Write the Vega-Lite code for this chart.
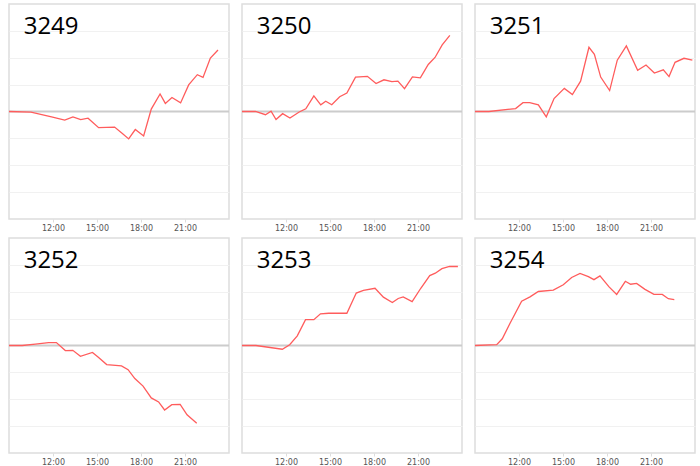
{
  "$schema": "https://vega.github.io/schema/vega-lite/v6.json",
  "padding": {"left": 5, "top": 3, "right": 0, "bottom": 0},
  "background": "white",
  "data": {
    "values": [
      {"id": "3249", "h": 9.0, "v": 0},
      {"id": "3249", "h": 10.5, "v": -0.02},
      {"id": "3249", "h": 11.9, "v": -0.2},
      {"id": "3249", "h": 12.8, "v": -0.32},
      {"id": "3249", "h": 13.36, "v": -0.2},
      {"id": "3249", "h": 13.89, "v": -0.3},
      {"id": "3249", "h": 14.39, "v": -0.25},
      {"id": "3249", "h": 15.11, "v": -0.6},
      {"id": "3249", "h": 16.2, "v": -0.58},
      {"id": "3249", "h": 16.77, "v": -0.84},
      {"id": "3249", "h": 17.16, "v": -1.02},
      {"id": "3249", "h": 17.61, "v": -0.67},
      {"id": "3249", "h": 18.18, "v": -0.91},
      {"id": "3249", "h": 18.7, "v": 0.09},
      {"id": "3249", "h": 19.3, "v": 0.65},
      {"id": "3249", "h": 19.66, "v": 0.3},
      {"id": "3249", "h": 20.11, "v": 0.52},
      {"id": "3249", "h": 20.7, "v": 0.32},
      {"id": "3249", "h": 21.25, "v": 0.99},
      {"id": "3249", "h": 21.84, "v": 1.37},
      {"id": "3249", "h": 22.23, "v": 1.27},
      {"id": "3249", "h": 22.73, "v": 1.99},
      {"id": "3249", "h": 23.25, "v": 2.29},

      {"id": "3250", "h": 9.0, "v": 0},
      {"id": "3250", "h": 9.92, "v": 0},
      {"id": "3250", "h": 10.6, "v": -0.12},
      {"id": "3250", "h": 10.98, "v": 0.01},
      {"id": "3250", "h": 11.32, "v": -0.3},
      {"id": "3250", "h": 11.77, "v": -0.08},
      {"id": "3250", "h": 12.27, "v": -0.24},
      {"id": "3250", "h": 12.9, "v": -0.02},
      {"id": "3250", "h": 13.35, "v": 0.1},
      {"id": "3250", "h": 13.9, "v": 0.58},
      {"id": "3250", "h": 14.37, "v": 0.25},
      {"id": "3250", "h": 14.71, "v": 0.38},
      {"id": "3250", "h": 15.12, "v": 0.25},
      {"id": "3250", "h": 15.66, "v": 0.55},
      {"id": "3250", "h": 16.15, "v": 0.69},
      {"id": "3250", "h": 16.74, "v": 1.28},
      {"id": "3250", "h": 17.55, "v": 1.31},
      {"id": "3250", "h": 18.14, "v": 1.04},
      {"id": "3250", "h": 18.68, "v": 1.18},
      {"id": "3250", "h": 19.22, "v": 1.11},
      {"id": "3250", "h": 19.63, "v": 1.13},
      {"id": "3250", "h": 20.08, "v": 0.85},
      {"id": "3250", "h": 20.62, "v": 1.29},
      {"id": "3250", "h": 21.16, "v": 1.25},
      {"id": "3250", "h": 21.7, "v": 1.75},
      {"id": "3250", "h": 22.16, "v": 2.01},
      {"id": "3250", "h": 22.65, "v": 2.48},
      {"id": "3250", "h": 23.17, "v": 2.83},

      {"id": "3251", "h": 9.0, "v": 0},
      {"id": "3251", "h": 9.95, "v": 0},
      {"id": "3251", "h": 11.77, "v": 0.11},
      {"id": "3251", "h": 12.27, "v": 0.33},
      {"id": "3251", "h": 12.73, "v": 0.33},
      {"id": "3251", "h": 13.32, "v": 0.25},
      {"id": "3251", "h": 13.86, "v": -0.2},
      {"id": "3251", "h": 14.39, "v": 0.48},
      {"id": "3251", "h": 15.09, "v": 0.86},
      {"id": "3251", "h": 15.64, "v": 0.63},
      {"id": "3251", "h": 16.2, "v": 1.13},
      {"id": "3251", "h": 16.77, "v": 2.39},
      {"id": "3251", "h": 17.14, "v": 2.13},
      {"id": "3251", "h": 17.57, "v": 1.28},
      {"id": "3251", "h": 18.18, "v": 0.78},
      {"id": "3251", "h": 18.7, "v": 1.91},
      {"id": "3251", "h": 19.32, "v": 2.44},
      {"id": "3251", "h": 20.09, "v": 1.53},
      {"id": "3251", "h": 20.66, "v": 1.73},
      {"id": "3251", "h": 21.23, "v": 1.43},
      {"id": "3251", "h": 21.84, "v": 1.55},
      {"id": "3251", "h": 22.23, "v": 1.3},
      {"id": "3251", "h": 22.64, "v": 1.83},
      {"id": "3251", "h": 23.25, "v": 1.98},
      {"id": "3251", "h": 23.82, "v": 1.91},

      {"id": "3252", "h": 9.0, "v": 0},
      {"id": "3252", "h": 9.9, "v": 0},
      {"id": "3252", "h": 10.8, "v": 0.05},
      {"id": "3252", "h": 11.7, "v": 0.11},
      {"id": "3252", "h": 12.23, "v": 0.11},
      {"id": "3252", "h": 12.84, "v": -0.19},
      {"id": "3252", "h": 13.35, "v": -0.18},
      {"id": "3252", "h": 13.87, "v": -0.4},
      {"id": "3252", "h": 14.69, "v": -0.26},
      {"id": "3252", "h": 15.09, "v": -0.44},
      {"id": "3252", "h": 15.66, "v": -0.71},
      {"id": "3252", "h": 16.67, "v": -0.76},
      {"id": "3252", "h": 17.12, "v": -0.9},
      {"id": "3252", "h": 17.58, "v": -1.23},
      {"id": "3252", "h": 18.14, "v": -1.51},
      {"id": "3252", "h": 18.7, "v": -1.95},
      {"id": "3252", "h": 19.2, "v": -2.1},
      {"id": "3252", "h": 19.61, "v": -2.4},
      {"id": "3252", "h": 20.1, "v": -2.2},
      {"id": "3252", "h": 20.67, "v": -2.19},
      {"id": "3252", "h": 21.14, "v": -2.58},
      {"id": "3252", "h": 21.8, "v": -2.89},

      {"id": "3253", "h": 9.0, "v": 0},
      {"id": "3253", "h": 9.95, "v": 0},
      {"id": "3253", "h": 11.75, "v": -0.14},
      {"id": "3253", "h": 12.25, "v": 0.03},
      {"id": "3253", "h": 12.77, "v": 0.36},
      {"id": "3253", "h": 13.33, "v": 0.96},
      {"id": "3253", "h": 13.9, "v": 0.96},
      {"id": "3253", "h": 14.35, "v": 1.18},
      {"id": "3253", "h": 14.91, "v": 1.2},
      {"id": "3253", "h": 16.15, "v": 1.2},
      {"id": "3253", "h": 16.79, "v": 1.95},
      {"id": "3253", "h": 17.28, "v": 2.05},
      {"id": "3253", "h": 18.07, "v": 2.13},
      {"id": "3253", "h": 18.64, "v": 1.8},
      {"id": "3253", "h": 19.25, "v": 1.6},
      {"id": "3253", "h": 19.65, "v": 1.75},
      {"id": "3253", "h": 19.99, "v": 1.81},
      {"id": "3253", "h": 20.6, "v": 1.63},
      {"id": "3253", "h": 21.19, "v": 2.13},
      {"id": "3253", "h": 21.8, "v": 2.6},
      {"id": "3253", "h": 22.18, "v": 2.69},
      {"id": "3253", "h": 22.63, "v": 2.86},
      {"id": "3253", "h": 23.15, "v": 2.94},
      {"id": "3253", "h": 23.72, "v": 2.94},

      {"id": "3254", "h": 9.0, "v": 0},
      {"id": "3254", "h": 10.48, "v": 0.03},
      {"id": "3254", "h": 10.86, "v": 0.25},
      {"id": "3254", "h": 11.39, "v": 0.83},
      {"id": "3254", "h": 12.18, "v": 1.65},
      {"id": "3254", "h": 12.75, "v": 1.81},
      {"id": "3254", "h": 13.32, "v": 2.01},
      {"id": "3254", "h": 14.34, "v": 2.06},
      {"id": "3254", "h": 15.02, "v": 2.26},
      {"id": "3254", "h": 15.59, "v": 2.53},
      {"id": "3254", "h": 16.16, "v": 2.68},
      {"id": "3254", "h": 16.73, "v": 2.56},
      {"id": "3254", "h": 17.11, "v": 2.45},
      {"id": "3254", "h": 17.52, "v": 2.59},
      {"id": "3254", "h": 18.14, "v": 2.18},
      {"id": "3254", "h": 18.66, "v": 1.9},
      {"id": "3254", "h": 19.25, "v": 2.39},
      {"id": "3254", "h": 19.61, "v": 2.28},
      {"id": "3254", "h": 20.02, "v": 2.31},
      {"id": "3254", "h": 20.59, "v": 2.09},
      {"id": "3254", "h": 21.2, "v": 1.9},
      {"id": "3254", "h": 21.77, "v": 1.9},
      {"id": "3254", "h": 22.18, "v": 1.74},
      {"id": "3254", "h": 22.59, "v": 1.71}
    ]
  },
  "facet": {
    "field": "id",
    "type": "nominal",
    "title": null,
    "header": {"labels": false, "labelExpr": "''", "labelFontSize": 0, "labelPadding": 0, "title": null}
  },
  "columns": 3,
  "bounds": "flush",
  "spacing": {"column": 13, "row": 19},
  "resolve": {"axis": {"x": "independent"}},
  "spec": {
    "width": 220,
    "height": 215,
    "encoding": {
      "x": {
        "field": "h",
        "type": "quantitative",
        "scale": {"domain": [9, 24], "nice": false, "zero": false},
        "axis": {
          "title": null,
          "values": [12, 15, 18, 21],
          "labelExpr": "datum.value + ':00'",
          "grid": false,
          "domain": false,
          "tickSize": 3,
          "tickColor": "#dddddd",
          "labelPadding": 2,
          "labelFont": "DejaVu Sans",
          "labelFontSize": 8,
          "labelColor": "#555555"
        }
      },
      "y": {
        "field": "v",
        "type": "quantitative",
        "scale": {"domain": [-4, 4], "nice": false},
        "axis": {
          "title": null,
          "values": [-3, -2, -1, 1, 2, 3],
          "labels": false,
          "ticks": false,
          "domain": false,
          "grid": true,
          "gridColor": "#f1f1f1"
        }
      }
    },
    "layer": [
      {
        "transform": [{"filter": "datum.h == 9"}],
        "mark": {"type": "rule", "color": "#cccccc", "strokeWidth": 2},
        "encoding": {"x": null, "y": {"datum": 0}}
      },
      {
        "mark": {"type": "line", "color": "#ff5c5c", "strokeWidth": 1.3}
      },
      {
        "transform": [{"filter": "datum.h == 9"}],
        "mark": {"type": "text", "font": "Open Sans", "fontSize": 24, "color": "black", "align": "left", "baseline": "alphabetic"},
        "encoding": {
          "x": {"datum": 10.0},
          "y": {"datum": 2.9},
          "text": {"field": "id"}
        }
      }
    ]
  },
  "config": {
    "view": {"stroke": "#dddddd", "strokeWidth": 1.5},
    "header": {"labels": false, "title": null, "labelPadding": 0},
    "headerFacet": {"labels": false, "title": null, "labelPadding": 0}
  }
}
